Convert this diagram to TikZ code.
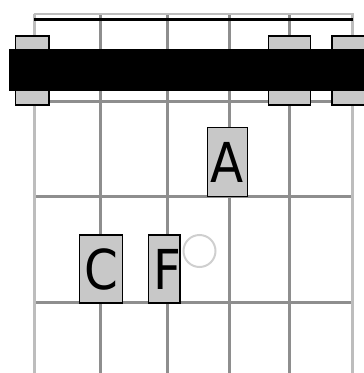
\documentclass[tikz,border=0pt]{standalone}
\usepackage{fontspec}
\newfontfamily\dvsans{DejaVu Sans}
\definecolor{outerline}{HTML}{BDBDBD}
\definecolor{innerline}{HTML}{8E8E8E}
\definecolor{boxfill}{HTML}{C8C8C8}
\definecolor{ringgray}{HTML}{CFCFCF}
\newcommand{\noteletter}[1]{\scalebox{0.88}[1]{#1}}
\tikzset{
  outerstring/.style={draw=outerline, line width=3pt},
  innerstring/.style={draw=innerline, line width=3pt},
  fretline/.style={draw=innerline, line width=3pt},
  notebox/.style={draw=black, fill=boxfill, line width=1.4pt, inner sep=0pt,
    font=\dvsans\fontsize{55}{55}\selectfont},
  nutbox/.style={draw=black, fill=boxfill, line width=1.4pt, inner sep=0pt, minimum height=69pt},
  ring/.style={circle, draw=ringgray, line width=2pt, inner sep=0pt, minimum size=32pt}
}
\begin{document}
\begin{tikzpicture}[x=1pt,y=-1pt]
\useasboundingbox (0,0) rectangle (364,373);
% frets
\foreach \y in {101.5,196,302} \draw[fretline] (34.5,\y) -- (352.5,\y);
% strings
\draw[outerstring] (34.5,14) -- (34.5,380);
\foreach \x in {100.5,167,229.5,289.5} \draw[innerstring] (\x,14) -- (\x,380);
\draw[outerstring] (352.5,14) -- (352.5,380);
% top edge
\draw[draw=outerline, line width=2.5pt] (33.5,14) -- (353.5,14);
\draw[black, line width=3pt] (34,19.5) -- (353,19.5);
% boxes behind the barre
\node[nutbox, minimum width=33.3pt] (nutone) at (32.4,70.5) {};
\node[nutbox, minimum width=42pt] (nutfive) at (289.7,70.5) {};
\node[nutbox, minimum width=40pt] (nutsix) at (352,70.5) {};
% barre
\fill[black] (9,49) rectangle (370,91);
% note boxes
\node[notebox, minimum width=39.5pt, minimum height=69.5pt] (A) at (227.5,162) {\noteletter{A}};
\node[notebox, minimum width=43.4pt, minimum height=68.3pt] (C) at (101,269) {\noteletter{C}};
\node[notebox, minimum width=31.7pt, minimum height=68.3pt] (F) at (164.2,269) {\kern3pt\noteletter{F}\kern-3pt};
% open ring
\node[ring] (open) at (199.5,251) {};
\end{tikzpicture}
\end{document}
